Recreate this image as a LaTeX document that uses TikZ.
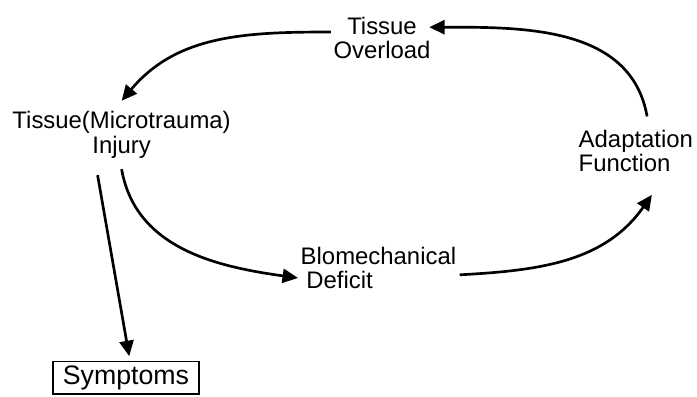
\documentclass[tikz,border=0pt]{standalone}
\usepackage{fontspec}
\setmainfont{Liberation Sans}
\usepackage{tikz}
\usetikzlibrary{arrows.meta}
\tikzset{
	main node/.style={font=\fontsize{17}{17.5}\selectfont,inner sep=1pt},
	box node/.style={draw,line width=0.9pt,font=\fontsize{19}{19}\selectfont,
		minimum width=104pt,minimum height=23pt,inner sep=1pt}
}

\begin{document}
\begin{tikzpicture}[->,>={Triangle[length=11pt,width=10pt]},line width=1.9pt]
      \useasboundingbox (0,0) rectangle (17.425,9.925);

      \node[main node,align=center] (1) at (9.55,8.975) {Tissue\\Overload};
      \node[main node,align=center] (2) at (3.04,6.55) {Tissue(Microtrauma)\\Injury};
      \node[main node,align=left,anchor=west] (3) at (14.4,6.15) {Adaptation\\Function};
      \node[main node,align=left,anchor=west] (4) at (7.45,3.225) {Blomechanical\\\hspace{4pt}Deficit};
      \node[box node] (5) at (3.15,0.48) {Symptoms};

      \path[]
        ([xshift=0.28cm,yshift=0.27cm]3.north) edge[out=100,in=0] ([xshift=-0.1cm,yshift=0.27cm]1.east)
        ([yshift=0.15cm]1.west) edge[out=180,in=50] ([yshift=0.2cm]2.north)
        ([yshift=-0.2cm]2.south) edge[out=-80,in=172] ([yshift=-0.25cm]4.west)
        ([xshift=0.02cm,yshift=-0.17cm]4.east) edge[out=3,in=-125] ([xshift=0.4cm,yshift=-0.5cm]3.south)
        ([xshift=-0.6cm,yshift=-0.35cm]2.south) edge ([xshift=0.08cm,yshift=0.12cm]5.north);
    \end{tikzpicture}
\end{document}
